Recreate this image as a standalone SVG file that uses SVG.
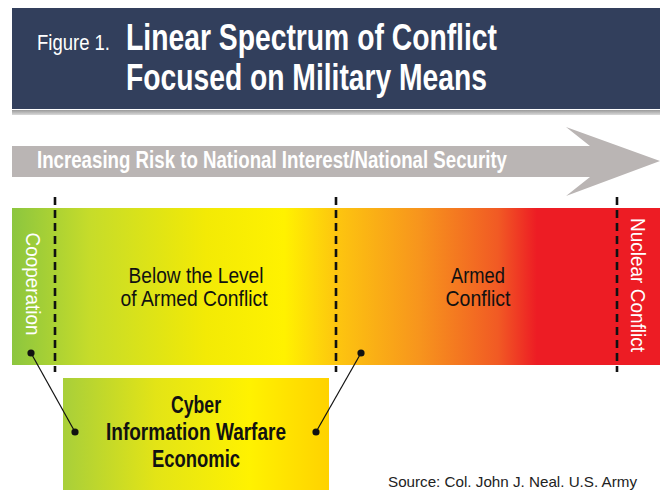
<svg xmlns="http://www.w3.org/2000/svg" width="660" height="490" viewBox="0 0 660 490">
<defs>
<linearGradient id="bar" x1="12" y1="0" x2="660" y2="0" gradientUnits="userSpaceOnUse">
<stop offset="0" stop-color="#8cc63f"/>
<stop offset="0.12" stop-color="#c6dc2a"/>
<stop offset="0.3" stop-color="#f3ea05"/>
<stop offset="0.42" stop-color="#fff200"/>
<stop offset="0.5" stop-color="#fdc60f"/>
<stop offset="0.63" stop-color="#f7941d"/>
<stop offset="0.75" stop-color="#f15a24"/>
<stop offset="0.81" stop-color="#ed1c24"/>
<stop offset="1" stop-color="#ed1c24"/>
</linearGradient>
<linearGradient id="box" x1="63" y1="0" x2="329" y2="0" gradientUnits="userSpaceOnUse">
<stop offset="0" stop-color="#a8cf3a"/>
<stop offset="0.35" stop-color="#e3e416"/>
<stop offset="0.7" stop-color="#fff200"/>
<stop offset="1" stop-color="#ffd200"/>
</linearGradient>
<linearGradient id="rule" x1="0" y1="110" x2="0" y2="116" gradientUnits="userSpaceOnUse">
<stop offset="0" stop-color="#9a9a9a"/>
<stop offset="1" stop-color="#e6e6e6"/>
</linearGradient>
</defs>
<style>
text{font-family:"Liberation Sans Narrow","Liberation Sans",Arial,sans-serif;}
.hd{fill:#ffffff;font-weight:bold;font-size:37px;}
.lbl{fill:#111111;font-size:22px;text-anchor:middle;}
.bold{fill:#111111;font-size:23px;font-weight:bold;text-anchor:middle;}
.vert{fill:#ffffff;font-size:21px;text-anchor:middle;}
.dash{stroke:#111111;stroke-width:2.6;stroke-dasharray:8 5;fill:none;}
.lead{stroke:#111111;stroke-width:1.2;fill:none;}
.dot{fill:#111111;}
</style>
<rect x="0" y="0" width="660" height="490" fill="#ffffff"/>
<g id="header">
<rect x="12" y="8" width="648" height="101" fill="#323f5c"/>
<rect x="12" y="110" width="648" height="5" fill="url(#rule)"/>
<text x="37" y="50" fill="#ffffff" font-size="22" textLength="73" lengthAdjust="spacingAndGlyphs">Figure 1.</text>
<text class="hd" x="126" y="50" textLength="371" lengthAdjust="spacingAndGlyphs">Linear Spectrum of Conflict</text>
<text class="hd" x="126" y="90" textLength="361" lengthAdjust="spacingAndGlyphs">Focused on Military Means</text>
</g>
<g id="risk-arrow">
<polygon points="12,146 590,146 566,127 660,161 566,196 590,177 12,177" fill="#bab5b4"/>
<text x="37" y="168" fill="#ffffff" font-size="23" font-weight="bold" textLength="470" lengthAdjust="spacingAndGlyphs">Increasing Risk to National Interest/National Security</text>
</g>
<g id="spectrum">
<rect x="12" y="208" width="648" height="157" fill="url(#bar)"/>
</g>
<g id="cooperation">
<text class="vert" transform="translate(26,284) rotate(90)" textLength="103" lengthAdjust="spacingAndGlyphs">Cooperation</text>
</g>
<g id="below-armed-conflict">
<text class="lbl" x="196" y="283" textLength="135" lengthAdjust="spacingAndGlyphs">Below the Level</text>
<text class="lbl" x="194" y="306" textLength="147" lengthAdjust="spacingAndGlyphs">of Armed Conflict</text>
</g>
<g id="armed-conflict">
<text class="lbl" x="478" y="283" textLength="54" lengthAdjust="spacingAndGlyphs">Armed</text>
<text class="lbl" x="478" y="306" textLength="65" lengthAdjust="spacingAndGlyphs">Conflict</text>
</g>
<g id="nuclear-conflict">
<text class="vert" transform="translate(631,285) rotate(90)" textLength="134" lengthAdjust="spacingAndGlyphs">Nuclear Conflict</text>
</g>
<g id="means-box">
<rect x="63" y="378" width="266" height="112" fill="url(#box)"/>
<text class="bold" x="196" y="413" textLength="50" lengthAdjust="spacingAndGlyphs">Cyber</text>
<text class="bold" x="196" y="440" textLength="180" lengthAdjust="spacingAndGlyphs">Information Warfare</text>
<text class="bold" x="196" y="467" textLength="88" lengthAdjust="spacingAndGlyphs">Economic</text>
</g>
<g id="connectors">
<line class="dash" x1="55" y1="197" x2="55" y2="372"/>
<line class="dash" x1="336" y1="197" x2="336" y2="372"/>
<line class="dash" x1="617" y1="197" x2="617" y2="372"/>
<line class="lead" x1="31" y1="353" x2="75" y2="432"/>
<line class="lead" x1="361" y1="353" x2="316" y2="432"/>
<circle class="dot" cx="31" cy="353" r="3.6"/>
<circle class="dot" cx="361" cy="353" r="3.6"/>
<circle class="dot" cx="75" cy="432" r="3.6"/>
<circle class="dot" cx="316" cy="432" r="3.6"/>
</g>
<text x="388" y="487" fill="#222222" font-size="15" textLength="249" lengthAdjust="spacingAndGlyphs">Source: Col. John J. Neal. U.S. Army</text>
</svg>
